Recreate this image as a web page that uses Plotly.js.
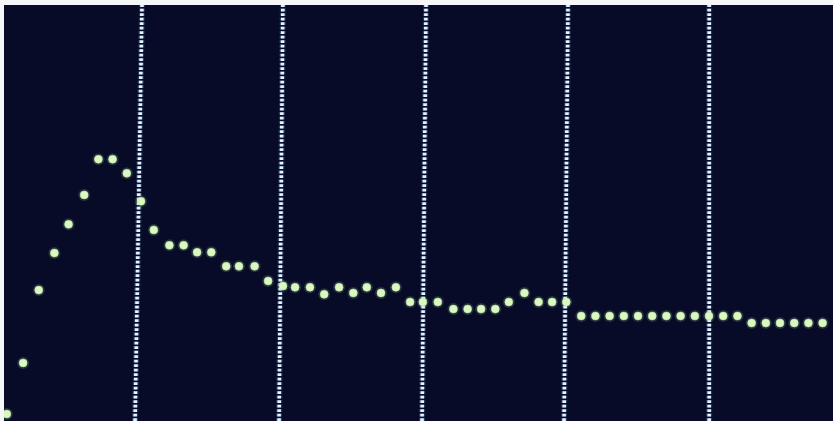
<!DOCTYPE html>
<html>
<head>
<meta charset="utf-8">
<script src="https://cdn.plot.ly/plotly-3.0.1.min.js"></script>
<style>
html,body{margin:0;padding:0;background:#ffffff;}
#chart{width:833px;height:421px;}
</style>
</head>
<body>
<div id="chart"></div>
<script>
// Sample positions (in samples, 10 samples per division)
var sampleX = [-0.45, 0.7, 1.8, 2.9, 3.9, 5, 6, 7, 8, 9,
  9.9, 11, 12, 12.95, 13.95, 15, 15.9, 17, 17.95, 19,
  19.85, 20.9, 21.9, 22.95, 23.95, 24.9, 25.9, 26.95, 27.95, 28.85,
  29.9, 31, 32, 32.95, 33.95, 34.9, 36, 37, 37.95, 38.95,
  40, 41, 42, 43, 44, 45, 46, 47, 48, 49,
  50, 51, 52, 53, 54, 55, 56, 57];
// Sample levels (ADC counts)
var sampleY = [1.0, 8.3, 18.7, 24.0, 28.1, 32.3, 37.4, 37.4, 35.4, 31.4,
  27.3, 25.1, 25.1, 24.1, 24.1, 22.1, 22.1, 22.1, 20.0, 19.3,
  19.1, 19.1, 18.1, 19.1, 18.3, 19.1, 18.3, 19.1, 17.0, 17.0,
  17.0, 16.0, 16.0, 16.0, 16.0, 17.0, 18.3, 17.0, 17.0, 17.0,
  15.0, 15.0, 15.0, 15.0, 15.0, 15.0, 15.0, 15.0, 15.0, 15.0,
  15.0, 15.0, 14.0, 14.0, 14.0, 14.0, 14.0, 14.0];
// Division lines (slightly tilted in the photo): position at bottom and at top
var divBottom = [8.58, 18.72, 28.79, 38.79, 49.01];
var divTop = [9.07, 18.99, 29.07, 39.07, 49.01];

var yMax = 59.43;
var shapes = [];
for (var i = 0; i < divTop.length; i++) {
  shapes.push({type:'line', xref:'x', yref:'y', layer:'below',
    x0: divBottom[i], x1: divTop[i], y0: 0, y1: yMax,
    line:{color:'rgba(140,200,255,0.25)', width:6, dash:'3px,1.5px'}});
  shapes.push({type:'line', xref:'x', yref:'y', layer:'below',
    x0: divBottom[i], x1: divTop[i], y0: 0, y1: yMax,
    line:{color:'#e2f2ff', width:3.6, dash:'2.8px,1.7px'}});
}

var glow = {
  x: sampleX, y: sampleY, type:'scatter', mode:'markers', hoverinfo:'skip',
  marker:{size:12, color:'rgba(190,240,160,0.16)', line:{width:0}}
};
var dots = {
  x: sampleX, y: sampleY, type:'scatter', mode:'markers',
  marker:{size:8, color:'#ddf7c4', line:{width:0.6, color:'#b6e69c'}}
};

var axisBase = {showgrid:false, zeroline:false, showticklabels:false,
  showline:false, ticks:'', fixedrange:true};

var layout = {
  width:833, height:421,
  margin:{l:4, r:0, t:5, b:0, pad:0},
  paper_bgcolor:'#f4f6f8',
  plot_bgcolor:'#070b28',
  showlegend:false,
  xaxis: Object.assign({range:[-0.648, 57.73]}, axisBase),
  yaxis: Object.assign({range:[0, yMax]}, axisBase),
  shapes: shapes
};

Plotly.newPlot('chart', [glow, dots], layout, {displayModeBar:false, staticPlot:true});
</script>
</body>
</html>
